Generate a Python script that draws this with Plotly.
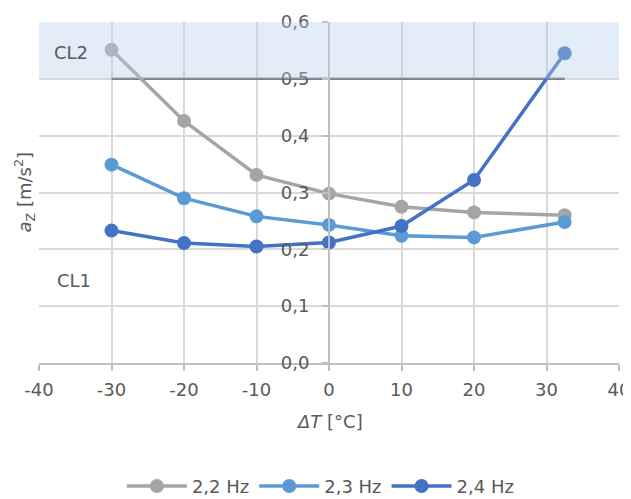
import plotly.graph_objects as go

dT = [-30, -20, -10, 0, 10, 20, 32.5]
a_22 = [0.551, 0.426, 0.331, 0.298, 0.275, 0.265, 0.260]
a_23 = [0.349, 0.290, 0.258, 0.243, 0.224, 0.221, 0.248]
a_24 = [0.233, 0.211, 0.205, 0.212, 0.241, 0.322, 0.545]
series_names = ["2,2 Hz", "2,3 Hz", "2,4 Hz"]
limit_x = [-30, 32.5]
limit_y = [0.5, 0.5]
band_y = [0.5, 0.6]
x_ticks = [-40, -30, -20, -10, 0, 10, 20, 30, 40]
x_ticklabels = ["-40", "-30", "-20", "-10", "0", "10", "20", "30", "40"]
y_ticks = [0.0, 0.1, 0.2, 0.3, 0.4, 0.5, 0.6]
y_ticklabels = ["0,0", "0,1", "0,2", "0,3", "0,4", "0,5", "0,6"]

colors = ["#A5A5A5", "#5B9BD5", "#4472C4"]
txt = "#595959"
FONT = "DejaVu Sans"

fig = go.Figure()
fig.add_trace(go.Scatter(x=limit_x, y=limit_y, mode="lines",
                         line=dict(color="#7F7F7F", width=2.5),
                         showlegend=False, hoverinfo="skip"))
for name, ys, c in zip(series_names, [a_22, a_23, a_24], colors):
    fig.add_trace(go.Scatter(x=dT, y=ys, name=name, mode="lines+markers",
                             line=dict(color=c, width=3.5),
                             marker=dict(color=c, size=14)))

fig.add_shape(type="rect", xref="x", yref="y", x0=-40, x1=40,
              y0=band_y[0], y1=band_y[1], line_width=0,
              fillcolor="rgba(180,208,235,0.38)", layer="above")

fig.add_annotation(x=-35.6, y=0.547, text="CL2", showarrow=False,
                   font=dict(size=18, color=txt, family=FONT))
fig.add_annotation(x=-35.2, y=0.146, text="CL1", showarrow=False,
                   font=dict(size=18, color=txt, family=FONT))
fig.add_annotation(xref="paper", yref="paper", x=-0.026, y=0.5,
                   xanchor="center", yanchor="middle",
                   text="<i>a</i><sub>Z</sub> [m/s<sup>2</sup>]",
                   textangle=-90, showarrow=False,
                   font=dict(size=18, color=txt, family=FONT))
fig.add_annotation(xref="paper", yref="paper", x=0.5, y=-0.173,
                   xanchor="center", yanchor="middle",
                   text="<i>ΔT</i> [°C]", showarrow=False,
                   font=dict(size=18, color=txt, family=FONT))

fig.update_layout(
    width=623, height=491,
    margin=dict(l=31, r=12, t=14, b=136),
    paper_bgcolor="white", plot_bgcolor="white",
    font=dict(family=FONT, size=18, color=txt),
    xaxis=dict(range=[-40, 40], tickvals=x_ticks, ticktext=x_ticklabels,
               showgrid=True,
               gridcolor="#D9D9D9", gridwidth=1.5, zeroline=False,
               showline=True, linecolor="#BFBFBF", linewidth=2,
               ticks="outside", ticklen=6, tickcolor="#BFBFBF", tickwidth=2,
               ticklabelstandoff=3, domain=[0, 1], automargin=False),
    yaxis=dict(range=[0, 0.6], tickvals=y_ticks, ticktext=y_ticklabels,
               anchor="free", position=0.5, showgrid=True,
               gridcolor="#D9D9D9", gridwidth=1.5, zeroline=False,
               showline=True, linecolor="#BFBFBF", linewidth=2,
               ticks="outside", ticklen=6, tickcolor="#BFBFBF", tickwidth=2,
               ticklabelstandoff=9, automargin=False),
    legend=dict(orientation="h", x=0.486, xanchor="center",
                yref="container", y=0.026, yanchor="middle",
                font=dict(size=18, color=txt), itemwidth=60),
    showlegend=True,
)

fig.write_html("out.html")
